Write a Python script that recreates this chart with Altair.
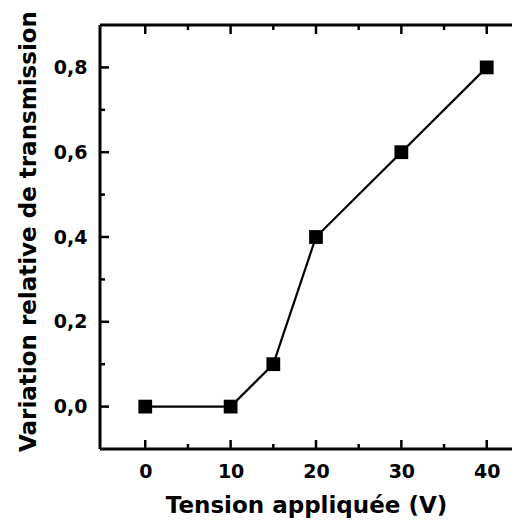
import altair as alt
import pandas as pd

# Data
tension = [0, 10, 15, 20, 30, 40]
variation = [0.0, 0.0, 0.1, 0.4, 0.6, 0.8]

x_major = [0, 10, 20, 30, 40]
x_minor = [5, 15, 25, 35]
y_major = [0.0, 0.2, 0.4, 0.6, 0.8]
y_minor = [0.1, 0.3, 0.5, 0.7]

W, H = 412, 424
X_DOMAIN = [-5.3, -5.3 + W / 8.537]
Y_DOMAIN = [-0.1, 0.9]
FONT = "DejaVu Sans"

df = pd.DataFrame({"tension": tension, "variation": variation})
xs = alt.Scale(domain=X_DOMAIN, nice=False, zero=False)
ys = alt.Scale(domain=Y_DOMAIN, nice=False, zero=False)

x_enc = alt.X(
    "tension:Q", scale=xs,
    axis=alt.Axis(
        values=x_major, title="Tension appliquée (V)", ticks=False, domain=False,
        grid=False, labelFont=FONT, labelFontSize=19, labelFontWeight="bold",
        labelColor="black", labelPadding=13, titleFont=FONT, titleFontSize=23,
        titleFontWeight="bold", titleColor="black", titlePadding=13,
    ),
)
y_enc = alt.Y(
    "variation:Q", scale=ys,
    axis=alt.Axis(
        values=y_major, title="Variation relative de transmission", ticks=False,
        domain=False, grid=False, labelExpr="replace(format(datum.value, '.1f'), '.', ',')",
        labelFont=FONT, labelFontSize=19, labelFontWeight="bold", labelColor="black",
        labelPadding=13, titleFont=FONT, titleFontSize=23, titleFontWeight="bold",
        titleColor="black", titlePadding=13, titleY=206,
    ),
)

line = alt.Chart(df).mark_line(color="black", strokeWidth=2.2).encode(x=x_enc, y=y_enc)
pts = alt.Chart(df).mark_square(color="black", opacity=1, size=190, filled=True).encode(
    x=x_enc, y=y_enc
)

def xticks(vals, length, top):
    d = pd.DataFrame({"tension": vals})
    y0, y1 = (0, length) if top else (H, H - length)
    return alt.Chart(d).mark_rule(color="black", strokeWidth=2.5).encode(
        x=x_enc, y=alt.value(y0), y2=alt.value(y1),
    )

def yticks(vals, length):
    d = pd.DataFrame({"variation": vals})
    return alt.Chart(d).mark_rule(color="black", strokeWidth=2.5).encode(
        y=y_enc, x=alt.value(0), x2=alt.value(length),
    )

frame = [
    alt.Chart().mark_rule(color="black", strokeWidth=3).encode(
        x=alt.value(0), y=alt.value(0), y2=alt.value(H)),
    alt.Chart().mark_rule(color="black", strokeWidth=3).encode(
        x=alt.value(0), x2=alt.value(W + 2), y=alt.value(0)),
    alt.Chart().mark_rule(color="black", strokeWidth=3).encode(
        x=alt.value(0), x2=alt.value(W + 2), y=alt.value(H)),
]

ticks = [
    xticks(x_major, 9, False), xticks(x_minor, 5, False),
    xticks(x_major, 9, True), xticks(x_minor, 5, True),
    yticks(y_major, 9), yticks(y_minor, 5),
]

chart = alt.layer(line, pts, *ticks, *frame).properties(
    width=W, height=H,
    autosize=alt.AutoSizeParams(type="none"),
    padding={"left": 92, "top": 17, "right": 0, "bottom": 70},
    background="white",
).configure_view(stroke=None)

chart.save("out.html", embed_options={"renderer": "svg", "actions": False})
